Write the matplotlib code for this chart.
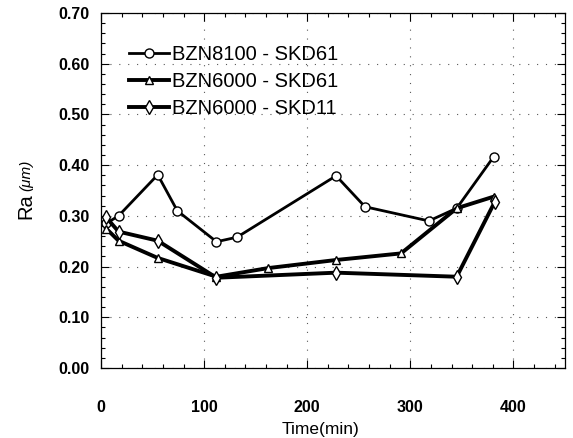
import matplotlib
matplotlib.use("Agg")
import matplotlib.pyplot as plt
from matplotlib.ticker import MultipleLocator, FormatStrFormatter

plt.rcParams['font.family'] = ['Liberation Sans', 'DejaVu Sans']

# Ra vs machining time
t_8100_d61 = [5, 17, 55, 74, 112, 132, 228, 256, 318, 345, 381]
ra_8100_d61 = [0.285, 0.300, 0.381, 0.310, 0.249, 0.258, 0.379, 0.318, 0.290, 0.315, 0.417]

t_6000_d61 = [5, 17, 55, 112, 162, 228, 291, 345, 381]
ra_6000_d61 = [0.275, 0.251, 0.217, 0.180, 0.197, 0.213, 0.226, 0.315, 0.338]

t_6000_d11 = [5, 17, 55, 112, 228, 345, 382]
ra_6000_d11 = [0.297, 0.269, 0.251, 0.178, 0.188, 0.180, 0.328]

labels = ['BZN8100 - SKD61', 'BZN6000 - SKD61', 'BZN6000 - SKD11']
x_ticks = [0, 100, 200, 300, 400]

fig = plt.figure(figsize=(5.73, 4.38), dpi=100)
ax = fig.add_axes([0.1763, 0.1598, 0.8097, 0.8105])

ax.plot(t_8100_d61, ra_8100_d61, 'k-', lw=2.0, marker='o', ms=6.5,
        mfc='white', mec='black', mew=1.0, label=labels[0])
ax.plot(t_6000_d61, ra_6000_d61, 'k-', lw=2.8, marker='^', ms=6,
        mfc='white', mec='black', mew=1.0, label=labels[1])
ax.plot(t_6000_d11, ra_6000_d11, 'k-', lw=2.8, marker='d', ms=7,
        mfc='white', mec='black', mew=1.0, label=labels[2])

ax.set_xlim(0, 450)
ax.set_ylim(0, 0.70)
ax.set_xticks(x_ticks)
ax.xaxis.set_minor_locator(MultipleLocator(20))
ax.yaxis.set_major_locator(MultipleLocator(0.1))
ax.yaxis.set_minor_locator(MultipleLocator(0.02))
ax.yaxis.set_major_formatter(FormatStrFormatter('%.2f'))

ax.tick_params(which='both', direction='in', top=True, right=True, width=0.8)
ax.tick_params(which='major', length=6, labelsize=11.5)
ax.tick_params(which='minor', length=3)
ax.tick_params(axis='y', pad=8)
ax.tick_params(axis='x', pad=23)
for lab in ax.get_xticklabels() + ax.get_yticklabels():
    lab.set_fontweight('bold')

for s in ax.spines.values():
    s.set_linewidth(0.9)

ax.grid(True, which='major', color='0.35', linestyle=(0, (1, 7)), lw=0.8)

ax.set_xlabel('Time(min)', fontsize=12.5)
ax.xaxis.set_label_coords(0.474, -0.152)

# y label: "Ra" plus smaller italic unit
fig.text(0.045, 0.530, 'Ra', rotation=90, fontsize=14.5, ha='center', va='center')
fig.text(0.045, 0.600, '(μm)', rotation=90, fontsize=11, style='italic',
         ha='center', va='center')

ax.legend(loc='upper left', bbox_to_anchor=(0.06, 0.91), frameon=False,
          fontsize=14.5, handlelength=2.0, handletextpad=0.15,
          labelspacing=0.4, borderaxespad=0, borderpad=0)

fig.savefig('out.png', dpi=100)
